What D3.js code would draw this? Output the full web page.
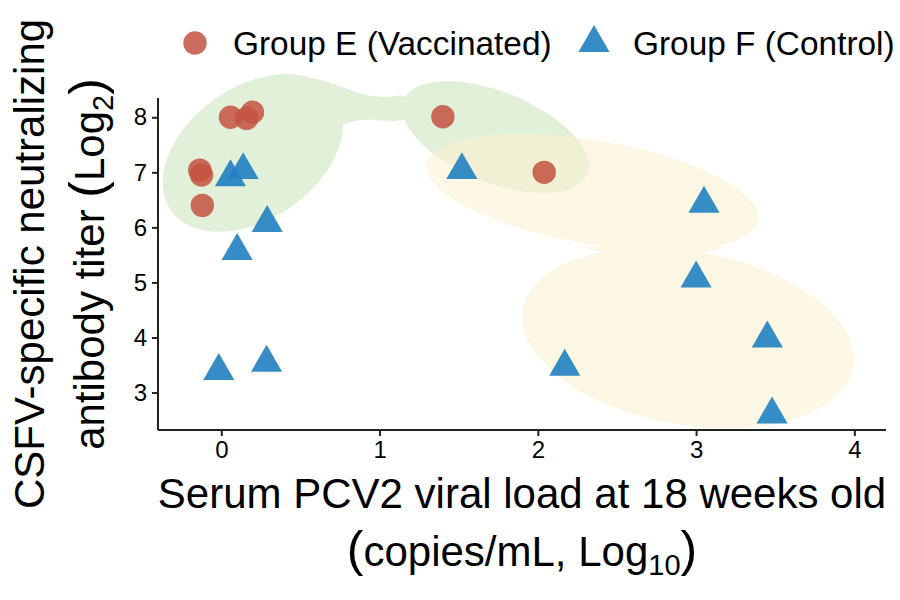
<!DOCTYPE html>
<html><head><meta charset="utf-8">
<script src="https://cdn.jsdelivr.net/npm/d3@7"></script>
<style>
body{margin:0;background:#fff}
svg{display:block}
text{font-family:"Liberation Sans",Arial,Helvetica,sans-serif;fill:#000}
</style>
</head><body>
<svg id="chart" width="900" height="600"></svg>
<script>
// ---- data ----
const groupNames = ["Group E (Vaccinated)", "Group F (Control)"];
const groupEx = [0.058, 0.16, 0.197, -0.136, -0.125, -0.12, 1.40, 2.04];
const groupEy = [8.00, 7.98, 8.09, 7.04, 6.95, 6.40, 8.01, 7.00];
const groupFx = [0.058, 0.138, 0.29, 0.10, -0.016, 0.286, 1.52, 3.05, 3.00, 3.45, 2.17, 3.48];
const groupFy = [6.91, 7.04, 6.08, 5.57, 3.39, 3.54, 7.04, 6.43, 5.07, 3.98, 3.47, 2.60];
const xTicks = [0, 1, 2, 3, 4];
const yTicks = [3, 4, 5, 6, 7, 8];
const xDomain = [-0.4, 4.2];
const yDomain = [2.32, 8.35];
// encircling hulls (in data units): ellipses (centre + two semi-axis vectors) and joining necks
const greenEllipses = [
  {cx: 0.200, cy: 7.352, u: [0.5175, 1.0425], v: [0.2395, -0.9825]},
  {cx: 1.731, cy: 7.64, u: [0.579, -0.673], v: [-0.107, -0.762]}
];
const greenNeck = [[0.58,8.72],[0.70,8.62],[0.782,8.53],[0.87,8.44],[0.953,8.38],[1.04,8.37],[1.130,8.40],[1.22,8.30],
                   [1.22,7.98],[1.10,7.93],[1.00,7.94],[0.953,7.96],[0.88,7.95],[0.80,7.90],[0.72,7.80],[0.58,8.10]];
const yellowEllipses = [
  {cx: 2.345, cy: 6.642, u: [1.046, -0.509], v: [-0.0545, -0.925]},
  {cx: 2.949, cy: 3.987, u: [1.043, -0.524], v: [-0.094, -1.551]}
];
const yellowNeck = [[2.301,5.624],[2.725,5.842],[3.187,5.624],[2.725,5.369]];

// ---- drawing ----
const svg = d3.select("#chart");
const x = d3.scaleLinear().domain(xDomain).range([158, 886]);
const y = d3.scaleLinear().domain(yDomain).range([430, 98]);

function ellipsePts(e) {
  return d3.range(0, 120).map(i => {
    const t = i / 120 * 2 * Math.PI;
    return [e.cx + e.u[0]*Math.cos(t) + e.v[0]*Math.sin(t),
            e.cy + e.u[1]*Math.cos(t) + e.v[1]*Math.sin(t)];
  });
}
const lineClosed = d3.line().x(d => x(d[0])).y(d => y(d[1])).curve(d3.curveLinearClosed);

const gGreen = svg.append("g").attr("fill", "#e2efd9");
greenEllipses.forEach(e => gGreen.append("path").attr("d", lineClosed(ellipsePts(e))));
gGreen.append("path").attr("d", lineClosed(greenNeck));

const gYellow = svg.append("g").attr("fill", "rgb(251,242,210)").attr("opacity", 0.58);
yellowEllipses.forEach(e => gYellow.append("path").attr("d", lineClosed(ellipsePts(e))));
gYellow.append("path").attr("d", lineClosed(yellowNeck));

// axes
const axisColor = "#222";
const xAxis = svg.append("g").attr("transform", "translate(0,430)")
  .call(d3.axisBottom(x).tickValues(xTicks).tickSize(6).tickPadding(5).tickFormat(d3.format("d")));
const yAxis = svg.append("g").attr("transform", "translate(158,0)")
  .call(d3.axisLeft(y).tickValues(yTicks).tickSize(6).tickPadding(5).tickFormat(d3.format("d")));
[xAxis, yAxis].forEach(a => {
  a.attr("font-size", 24).attr("font-family", '"Liberation Sans",Arial,sans-serif');
  a.select(".domain").attr("stroke", axisColor).attr("stroke-width", 2);
  a.selectAll(".tick line").attr("stroke", axisColor).attr("stroke-width", 2);
  a.selectAll(".tick text").attr("font-size", 24).style("font-size", "24px").attr("fill", "#000");
});
xAxis.select(".domain").attr("d", `M${158},0H${886}`);
yAxis.select(".domain").attr("d", `M0,${98}V${430}`);

// points
const circleColor = "#C3523F", triColor = "#2080C0";
const circ = d3.symbol().type(d3.symbolCircle).size(430);
const tri = d3.symbol().type(d3.symbolTriangle).size(420);
const E = groupEx.map((v, i) => [v, groupEy[i]]);
const F = groupFx.map((v, i) => [v, groupFy[i]]);
svg.append("g").selectAll("path").data(E).join("path")
  .attr("d", circ).attr("transform", d => `translate(${x(d[0])},${y(d[1])})`)
  .attr("fill", circleColor).attr("fill-opacity", 0.85);
svg.append("g").selectAll("path").data(F).join("path")
  .attr("d", tri).attr("transform", d => `translate(${x(d[0])},${y(d[1])})`)
  .attr("fill", triColor).attr("fill-opacity", 0.9);

// legend
const leg = svg.append("g");
leg.append("path").attr("d", circ).attr("transform", "translate(195,43)").attr("fill", circleColor).attr("fill-opacity", 0.85);
leg.append("text").attr("x", 233).attr("y", 55).style("font-size", "33.4px").text(groupNames[0]);
leg.append("path").attr("d", tri).attr("transform", "translate(594,43)").attr("fill", triColor).attr("fill-opacity", 0.9);
leg.append("text").attr("x", 633).attr("y", 55).style("font-size", "33.4px").text(groupNames[1]);

// x title
svg.append("text").attr("x", 522).attr("y", 508).attr("text-anchor", "middle").style("font-size", "42px")
  .text("Serum PCV2 viral load at 18 weeks old");
const xt2 = svg.append("text").attr("x", 522).attr("y", 566).attr("text-anchor", "middle").style("font-size", "42px");
xt2.append("tspan").style("font-size", "50px").text("(");
xt2.append("tspan").text("copies/mL, Log");
xt2.append("tspan").style("font-size", "29px").attr("dy", 9).text("10");
xt2.append("tspan").style("font-size", "50px").attr("dy", -9).text(")");

// y title
svg.append("text").attr("transform", "translate(44,264) rotate(-90)").attr("text-anchor", "middle")
  .style("font-size", "42px").text("CSFV-specific neutralizing");
const yt2 = svg.append("text").attr("transform", "translate(104,264) rotate(-90)").attr("text-anchor", "middle").style("font-size", "42px");
yt2.append("tspan").text("antibody titer ");
yt2.append("tspan").style("font-size", "50px").text("(");
yt2.append("tspan").text("Log");
yt2.append("tspan").style("font-size", "29px").attr("dy", 9).text("2");
yt2.append("tspan").style("font-size", "50px").attr("dy", -9).text(")");
</script>
</body></html>
